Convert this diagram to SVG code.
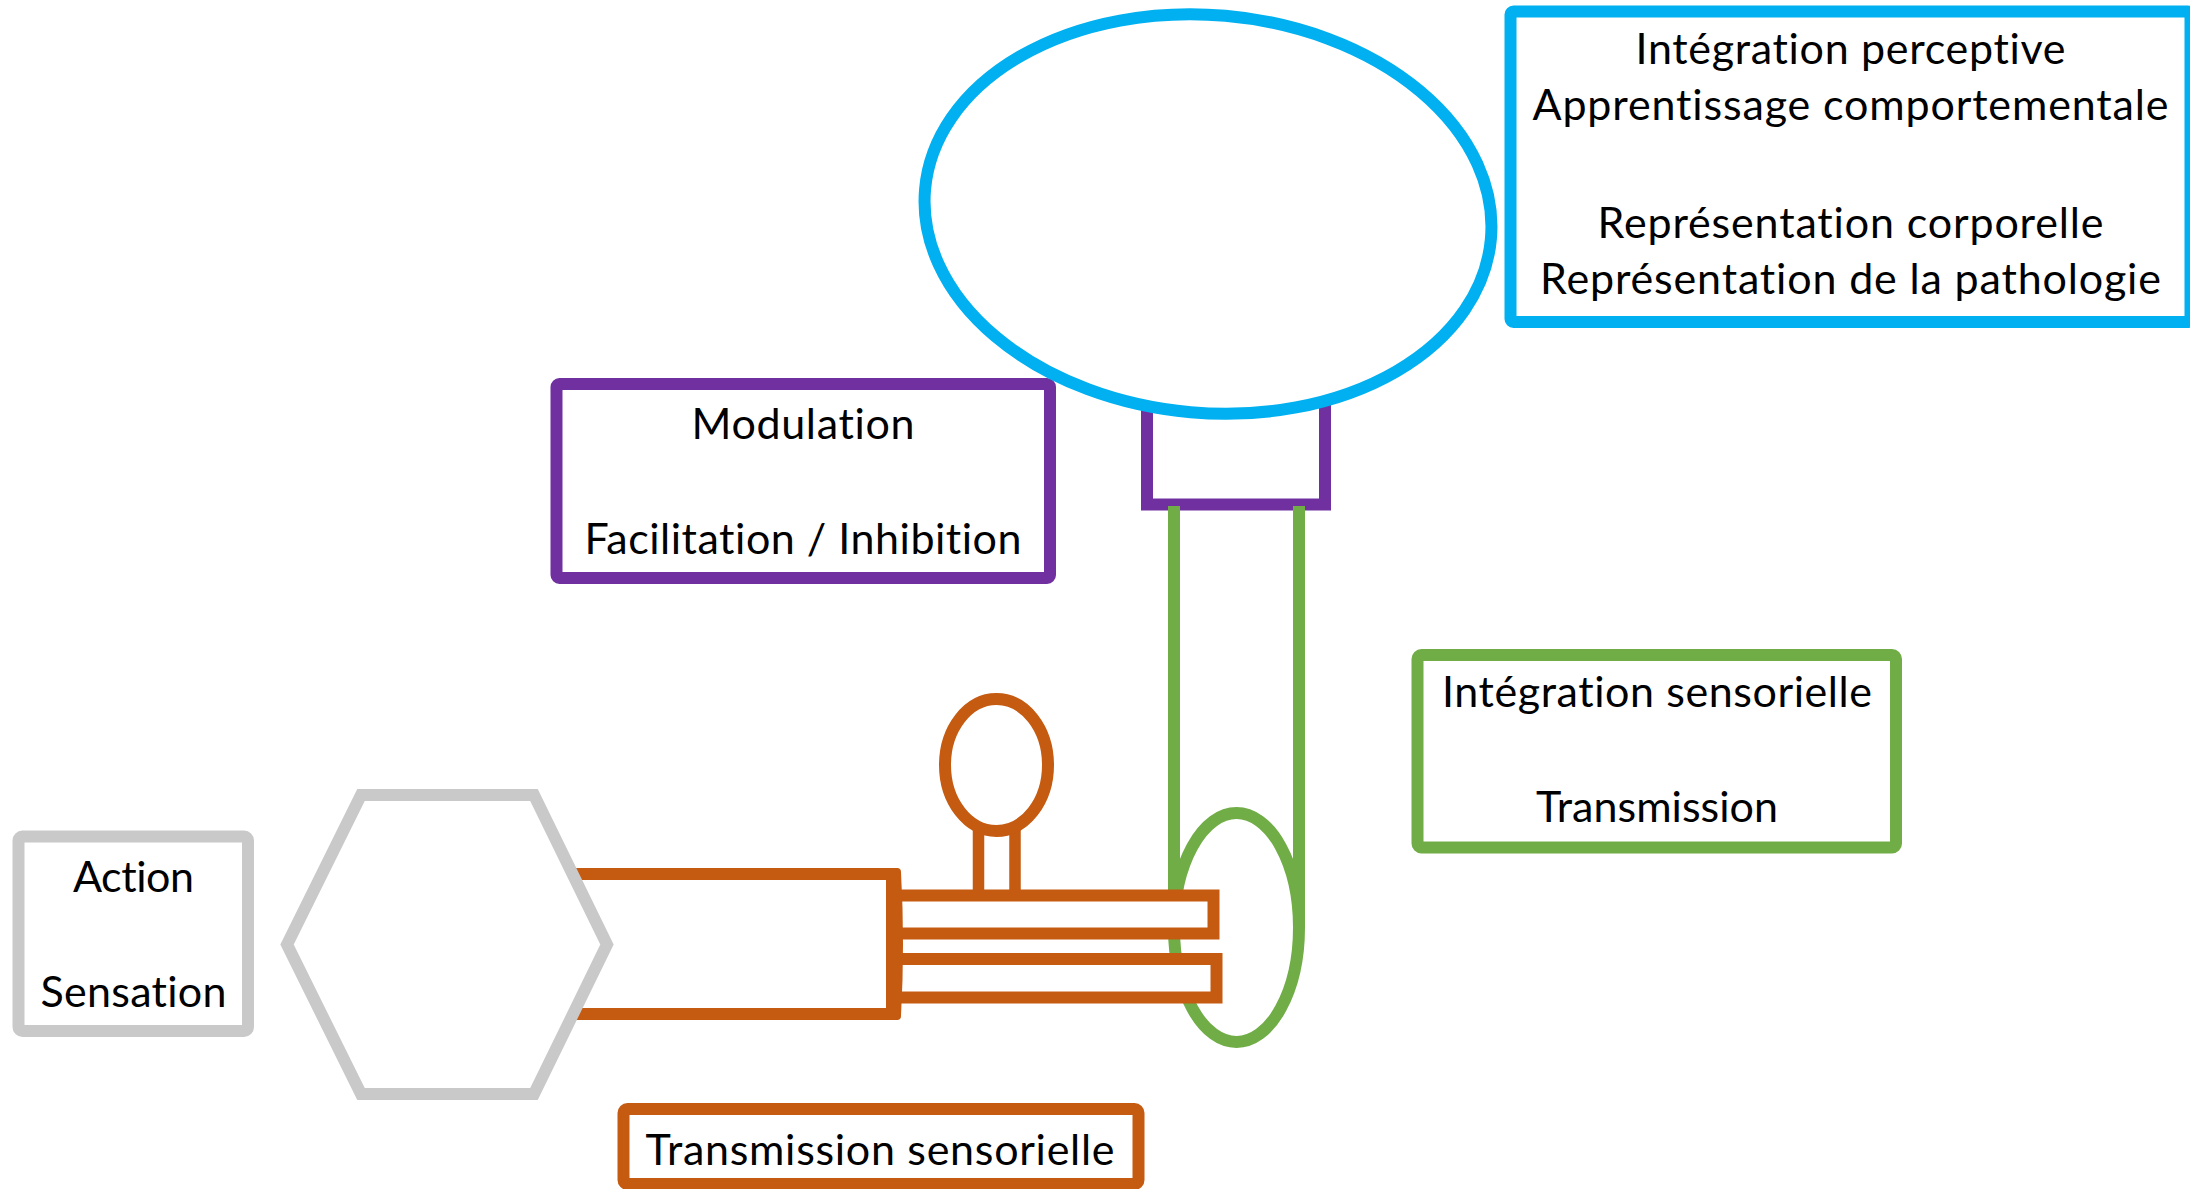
<svg xmlns="http://www.w3.org/2000/svg" width="2190" height="1189" viewBox="0 0 2190 1189">
<style>
.t{font-family:Lato,"Liberation Sans","DejaVu Sans",sans-serif;font-size:43px;fill:#000;text-anchor:middle;font-variant-ligatures:none;font-feature-settings:"liga" 0,"clig" 0}
.blue{stroke:#00B0F0;stroke-width:12;fill:#fff}
.purple{stroke:#7030A0;stroke-width:12;fill:#fff}
.green{stroke:#70AD47;stroke-width:12;fill:#fff}
.orange{stroke:#C55A11;stroke-width:12;fill:#fff}
.grey{stroke:#C9C9C9;stroke-width:12;fill:#fff}
</style>
<rect width="2190" height="1189" fill="#fff"/>

<g id="modulation">
<rect class="purple" x="556.5" y="384" width="493.5" height="194" rx="3"/>
<text class="t" x="803" y="439" textLength="223">Modulation</text>
<text class="t" x="803" y="554" textLength="437">Facilitation / Inhibition</text>
</g>

<g id="purple-link">
<rect class="purple" x="1147" y="380" width="178" height="124.5"/>
</g>

<g id="brain">
<ellipse class="blue" cx="1208" cy="214" rx="284" ry="199" transform="rotate(5 1208 214)"/>
</g>

<g id="integration-perceptive">
<rect class="blue" x="1510.5" y="11.5" width="680" height="310.5" rx="3"/>
<text class="t" x="1850.5" y="64" textLength="430">Intégration perceptive</text>
<text class="t" x="1850.5" y="120" textLength="636">Apprentissage comportementale</text>
<text class="t" x="1850.5" y="238" textLength="506">Représentation corporelle</text>
<text class="t" x="1850.5" y="294" textLength="621">Représentation de la pathologie</text>
</g>

<g id="integration-sensorielle">
<rect class="green" x="1417.5" y="655" width="478.5" height="192.5" rx="4"/>
<text class="t" x="1657" y="707" textLength="430">Intégration sensorielle</text>
<text class="t" x="1657" y="822" textLength="242">Transmission</text>
</g>

<g id="connectors" fill="none">
<line x1="1174" y1="506" x2="1174" y2="927" stroke="#70AD47" stroke-width="12"/>
<line x1="1299" y1="506" x2="1299" y2="927" stroke="#70AD47" stroke-width="12"/>
<line x1="978.5" y1="826" x2="978.5" y2="892" stroke="#C55A11" stroke-width="11.5"/>
<line x1="1015" y1="826" x2="1015" y2="892" stroke="#C55A11" stroke-width="11.5"/>
</g>

<g id="ganglion">
<ellipse cx="1236.5" cy="927.5" rx="62.5" ry="114.5" fill="none" stroke="#70AD47" stroke-width="12"/>
</g>

<g id="nerve">
<rect class="orange" x="500" y="874" width="392" height="140"/>
<rect class="orange" x="895" y="895.5" width="318.5" height="38"/>
<rect class="orange" x="895" y="959" width="321.5" height="38.5"/>
<path d="M886 868 L897 868 Q901 868 901 872 Q905 944 901 1016 Q901 1020 897 1020 L886 1020 Z" fill="#C55A11"/>
</g>

<g id="cell-body">
<ellipse class="orange" cx="996.5" cy="765" rx="51.5" ry="66"/>
</g>

<g id="receptor">
<polygon class="grey" points="361,795 534,795 607,944.5 534,1094 361,1094 287,944.5"/>
</g>

<g id="action-sensation">
<rect class="grey" x="18.5" y="836.5" width="229.5" height="194.5" rx="4"/>
<text class="t" x="133.5" y="892" textLength="121">Action</text>
<text class="t" x="133.5" y="1007" textLength="186">Sensation</text>
</g>

<g id="transmission-sensorielle">
<rect class="orange" x="623.5" y="1109" width="515" height="75" rx="4"/>
<text class="t" x="880" y="1165" textLength="469">Transmission sensorielle</text>
</g>
</svg>
